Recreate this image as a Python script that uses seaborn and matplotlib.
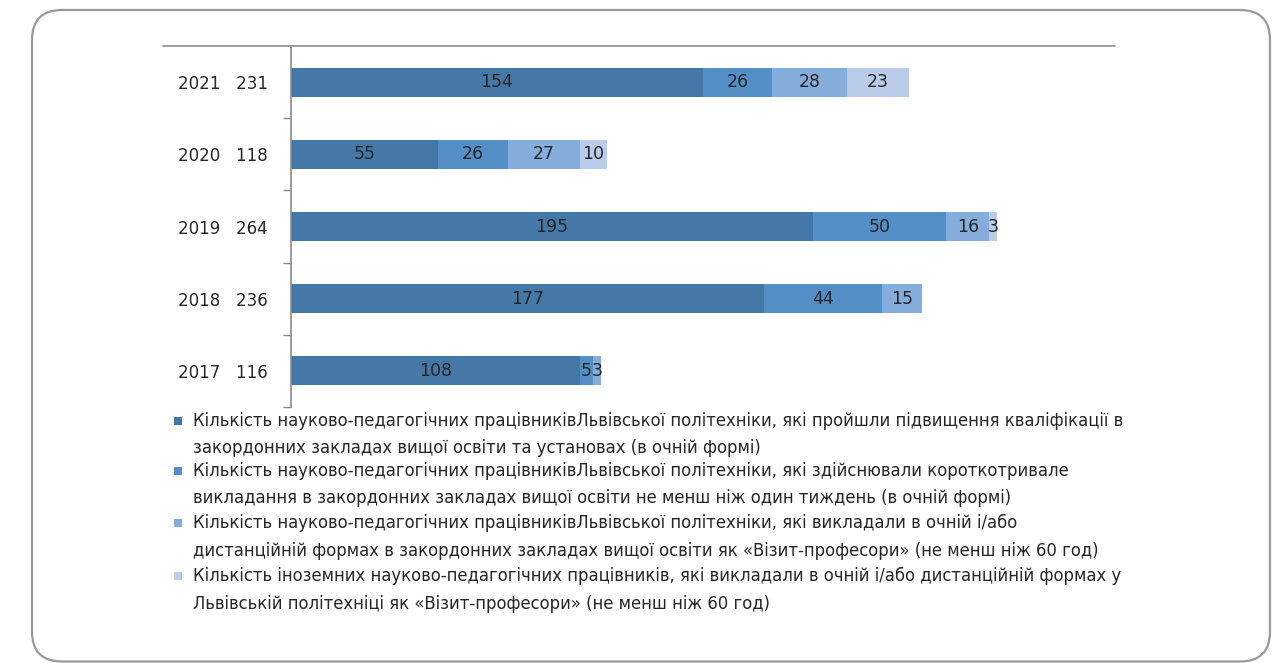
import matplotlib
matplotlib.use("Agg")
import matplotlib.pyplot as plt
from matplotlib.patches import FancyBboxPatch, Rectangle
from matplotlib.lines import Line2D
import pandas as pd
import seaborn as sns

years = ["2021", "2020", "2019", "2018", "2017"]
totals = [231, 118, 264, 236, 116]
raised_quals = [154, 55, 195, 177, 108]
short_teaching = [26, 26, 50, 44, 5]
visit_prof_abroad = [28, 27, 16, 15, 3]
foreign_visit_prof = [23, 10, 3, 0, 0]

series_labels = [
    "Кількість науково-педагогічних працівниківЛьвівської політехніки, які пройшли підвищення кваліфікації в\n"
    "закордонних закладах вищої освіти та установах (в очній формі)",
    "Кількість науково-педагогічних працівниківЛьвівської політехніки, які здійснювали короткотривале\n"
    "викладання в закордонних закладах вищої освіти не менш ніж один тиждень (в очній формі)",
    "Кількість науково-педагогічних працівниківЛьвівської політехніки, які викладали в очній і/або\n"
    "дистанційній формах в закордонних закладах вищої освіти як «Візит-професори» (не менш ніж 60 год)",
    "Кількість іноземних науково-педагогічних працівників, які викладали в очній і/або дистанційній формах у\n"
    "Львівській політехніці як «Візит-професори» (не менш ніж 60 год)",
]
colors = ["#4678A7", "#538EC7", "#84ADDB", "#B9CDEA"]

W, H = 1281, 663
sns.set_theme(style="white")
plt.rcParams["font.family"] = ["DejaVu Sans"]
text_color = "#262626"

fig = plt.figure(figsize=(W / 100, H / 100), dpi=100)
# plot area in pixels: x 291..1113, y 46..407
ax = fig.add_axes([291 / W, 1 - 407 / H, (1113 - 291) / W, (407 - 46) / H])

series = [raised_quals, short_teaching, visit_prof_abroad, foreign_visit_prof]
df = pd.DataFrame({"year": years})
cols = []
running = [0] * len(years)
for i, s in enumerate(series):
    running = [a + b for a, b in zip(running, s)]
    df[f"cum{i}"] = running
    cols.append(f"cum{i}")

# stacked bars: draw cumulative totals from the back
for i in reversed(range(len(series))):
    sns.barplot(data=df, x=cols[i], y="year", order=years, color=colors[i],
                width=0.4, saturation=1, ax=ax, linewidth=0)

# segment labels
for i, s in enumerate(series):
    for j, v in enumerate(s):
        if v == 0:
            continue
        left = df[cols[i]].iloc[j] - v
        ax.text(left + v / 2, j, str(v), ha="center", va="center",
                fontsize=12.5, color=text_color)

ax.set_xlim(0, 307.3)
ax.set_ylim(4.5, -0.5)
ax.set_xlabel("")
ax.set_ylabel("")
ax.set_xticks([])
ax.set_yticks(range(len(years)))
ax.set_yticklabels([f"{y}   {t}" for y, t in zip(years, totals)], fontsize=12, color=text_color)
ax.set_yticks([0.5, 1.5, 2.5, 3.5, 4.5], minor=True)
ax.tick_params(axis="y", which="major", length=0, pad=16.5)
ax.tick_params(axis="y", which="minor", length=6, width=1, color="#8c8c8c", left=True)
for side in ["right", "bottom", "top"]:
    ax.spines[side].set_visible(False)
ax.spines["left"].set_color("#8c8c8c")
ax.spines["left"].set_linewidth(1.2)

# horizontal line on top, reaching past the axis to the left
fig.add_artist(Line2D([163 / W, 1115 / W], [1 - 46 / H, 1 - 46 / H],
                      transform=fig.transFigure, color="#8c8c8c", lw=1.2))

# legend drawn by hand: square next to first line of each entry
first_line_y = [421, 471, 523, 576]
leg_texts = []
for lab, c, yy in zip(series_labels, colors, first_line_y):
    fig.add_artist(Rectangle((174 / W, 1 - (yy + 4) / H), 8 / W, 8 / H,
                             transform=fig.transFigure, color=c, lw=0))
    t = fig.text(193 / W, 1 - (yy - 9) / H, lab, ha="left", va="top",
                 fontsize=12.5, fontstretch="condensed", color=text_color,
                 linespacing=1.75)
    leg_texts.append(t)

# fit the widest legend line to ~927 px like the reference
probe = fig.text(0, 0, series_labels[0].split("\n")[0], fontsize=12.5,
                 fontstretch="condensed")
fig.canvas.draw()
width_px = probe.get_window_extent().width
probe.remove()
size = 12.5 * 927 / width_px
for t in leg_texts:
    t.set_fontsize(size)
    t.set_linespacing(1.75 * 12.5 / size)

# rounded frame around the chart
fig.patches.append(FancyBboxPatch((32, 1.5), 1238, 651.5,
                                  boxstyle="round,pad=0,rounding_size=30",
                                  transform=None, fill=False,
                                  edgecolor="#9a9a9a", lw=1.6))

fig.savefig("out.png", dpi=100)
